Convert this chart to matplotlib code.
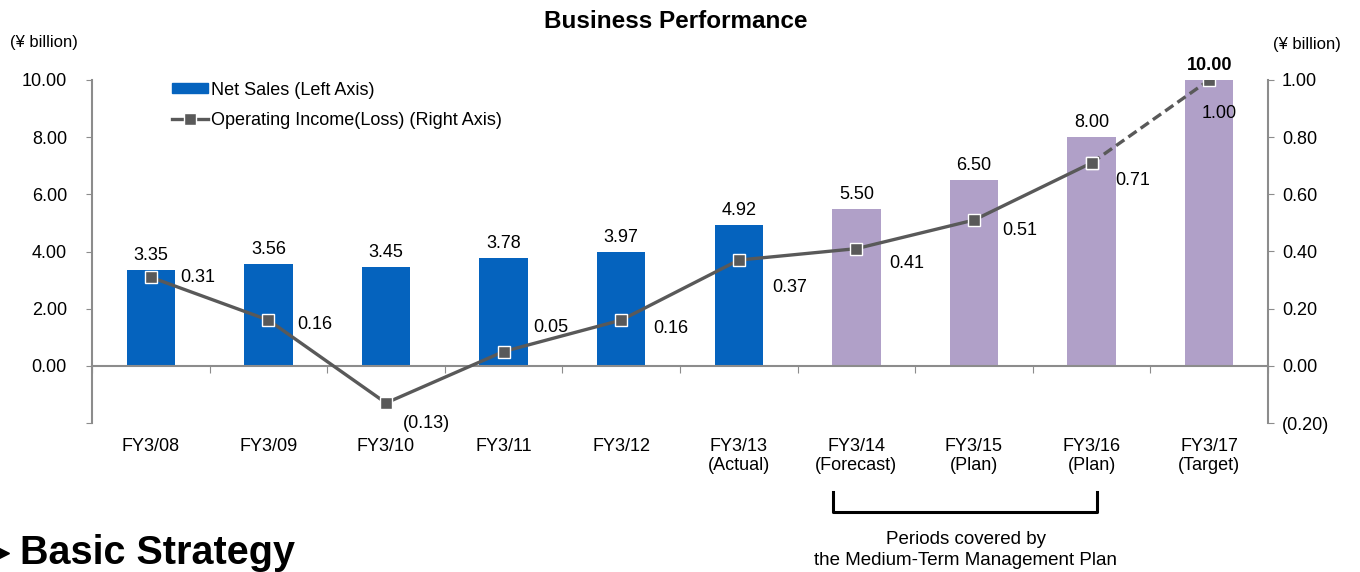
"""
Business performance chart: net sales bars + operating income line
"""
import matplotlib.pyplot as plt
import numpy as np
from matplotlib.patches import Patch
from matplotlib.lines import Line2D

plt.rcParams['font.family'] = ['Liberation Sans', 'DejaVu Sans']

periods = ['FY3/08', 'FY3/09', 'FY3/10', 'FY3/11', 'FY3/12',
           'FY3/13\n(Actual)', 'FY3/14\n(Forecast)', 'FY3/15\n(Plan)',
           'FY3/16\n(Plan)', 'FY3/17\n(Target)']
net_sales = [3.35, 3.56, 3.45, 3.78, 3.97, 4.92, 5.50, 6.50, 8.00, 10.00]
op_income = [0.31, 0.16, -0.13, 0.05, 0.16, 0.37, 0.41, 0.51, 0.71, 1.00]
n_actual = 6  # first 6 are actual results

blue = '#0563BE'
purple = '#B0A0C8'
gray_line = '#595959'
axis_gray = '#8C8C8C'
fs = 13

# label offsets for the line values (pixels, from marker)
line_lbl_off = [(29, 0), (29, -4), (17, -21), (30, 24), (32, -8),
                (33, -27), (33, -15), (28, -10), (24, -18), (-8, -34)]

fig = plt.figure(figsize=(13.6, 5.72), dpi=100)
ax = fig.add_axes([92 / 1360, 1 - 423 / 572, 1176 / 1360, 343 / 572])

x = np.arange(len(periods))
colors = [blue if i < n_actual else purple for i in range(len(periods))]
ax.bar(x, net_sales, width=0.41, color=colors, zorder=2)

ax.set_xlim(-0.5, len(periods) - 0.5)
ax.set_ylim(-2, 10)
ax.set_yticks(np.arange(-2, 10.1, 2))
ax.set_yticklabels(['' if v < 0 else '%.2f' % v for v in np.arange(-2, 10.1, 2)])
ax.tick_params(axis='y', length=4, color=axis_gray, labelsize=fs, pad=14)

for s in ['top', 'right']:
    ax.spines[s].set_visible(False)
ax.spines['left'].set_color(axis_gray)
ax.spines['left'].set_linewidth(1.5)
ax.spines['bottom'].set_position(('data', 0))
ax.spines['bottom'].set_color(axis_gray)
ax.spines['bottom'].set_linewidth(1.5)
ax.set_xticks(np.arange(-0.5, len(periods), 1))
ax.set_xticklabels([])
ax.tick_params(axis='x', length=5, color=axis_gray)

sec = ax.secondary_xaxis(0.0)
sec.set_xticks(x)
sec.set_xticklabels(periods, fontsize=fs, linespacing=1.12)
sec.tick_params(length=0, pad=11)
sec.spines['bottom'].set_visible(False)

for i, v in enumerate(net_sales):
    ax.annotate('%.2f' % v, (x[i], v), xytext=(0, 6), textcoords='offset pixels',
                ha='center', va='bottom', fontsize=fs,
                fontweight='bold' if i == len(periods) - 1 else 'normal')

ax2 = ax.twinx()
ax2.set_ylim(-0.2, 1.0)
ax2.set_yticks(np.arange(-0.2, 1.01, 0.2))
ax2.set_yticklabels(['(%.2f)' % -v if v < -1e-9 else '%.2f' % abs(v)
                     for v in np.arange(-0.2, 1.01, 0.2)])
ax2.tick_params(axis='y', length=4, color=axis_gray, labelsize=fs, pad=6)
for s in ['top', 'left', 'bottom']:
    ax2.spines[s].set_visible(False)
ax2.spines['right'].set_color(axis_gray)
ax2.spines['right'].set_linewidth(1.5)

mk = dict(marker='s', markersize=9, markerfacecolor=gray_line,
          markeredgecolor='white', markeredgewidth=1, color=gray_line, lw=2.4)
ax2.plot(x[:-1], op_income[:-1], zorder=3, **mk)
ax2.plot(x[-2:], op_income[-2:], ls=(0, (3, 1.5)), zorder=3, **mk)

for i, v in enumerate(op_income):
    txt = '(%.2f)' % -v if v < 0 else '%.2f' % v
    ax2.annotate(txt, (x[i], v), xytext=line_lbl_off[i], textcoords='offset pixels',
                 ha='left', va='center', fontsize=fs)

# legend
handles = [Patch(color=blue), Line2D([], [], **mk)]
ax2.legend(handles, ['Net Sales (Left Axis)', 'Operating Income(Loss) (Right Axis)'],
           loc='upper left', bbox_to_anchor=(0.068, 0.995), frameon=False,
           fontsize=fs, handlelength=2.0, handleheight=0.45, handletextpad=0.15,
           labelspacing=0.72, borderpad=0, borderaxespad=0)

fig.text(0.497, 1 - 22 / 572, 'Business Performance', ha='center', va='center',
         fontsize=17.5, fontweight='bold')
fig.text(10 / 1360, 1 - 43 / 572, '(¥ billion)', ha='left', va='center', fontsize=12)
fig.text(1273 / 1360, 1 - 44 / 572, '(¥ billion)', ha='left', va='center', fontsize=12)

# bracket for the medium-term plan
bx0, bx1 = 833 / 1360, 1097 / 1360
by0, by1 = 1 - 492 / 572, 1 - 512 / 572
fig.add_artist(Line2D([bx0, bx0, bx1, bx1], [by0, by1, by1, by0],
                      color='black', lw=2.2, transform=fig.transFigure))
fig.text(966 / 1360, 1 - 550 / 572,
         'Periods covered by\nthe Medium-Term Management Plan',
         ha='center', va='center', fontsize=13.5, linespacing=1.3)

# cut-off bullet arrow at the left edge
fig.add_artist(Line2D([1 / 1360], [1 - 553 / 572], marker='>', markersize=11,
                      color='black', transform=fig.transFigure))
fig.text(20 / 1360, 1 - 553 / 572, 'Basic Strategy', ha='left', va='center',
         fontsize=28.5, fontweight='bold')

plt.savefig('out.png', dpi=100)
